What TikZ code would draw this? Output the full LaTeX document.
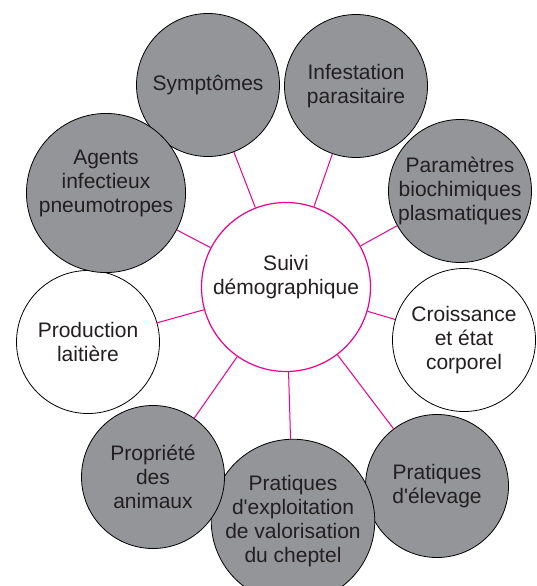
\documentclass[tikz,border=0pt]{standalone}
\usepackage{fontspec}
\setmainfont{Liberation Sans}
\usepackage{tikz}
\usetikzlibrary{positioning}
\definecolor{grisfond}{HTML}{939598}
\definecolor{rose}{HTML}{EC008C}
\definecolor{texte}{HTML}{231F20}
\tikzstyle{theme} = [circle, minimum size=143pt, inner sep=0pt, align=center, draw=black, line width=0.8pt, fill=grisfond, text=texte, font=\fontsize{21}{24}\selectfont]
\tikzstyle{blanc} = [theme, fill=white]
\tikzstyle{centre} = [circle, minimum size=169pt, inner sep=0pt, align=center, draw=rose, line width=1.2pt, fill=white, text=texte, font=\fontsize{21}{24}\selectfont]
\tikzstyle{lien} = [draw=rose, line width=1pt]

\begin{document}
\begin{tikzpicture}[x=1pt, y=-1pt]
\useasboundingbox [fill=white] (0,0) rectangle (536,586);
\node (suivi) [centre] at (286,287) {Suivi\\démographique\\\mbox{}};
\node (sympt) [theme] at (208,85) {Symptômes};
\node (infest) [theme] at (356,86) {Infestation\\parasitaire};
\node (param) [theme] at (460,191) {Paramètres\\biochimiques\\plasmatiques};
\node (croiss) [blanc] at (464,340) {Croissance\\et état\\corporel};
\node (elev) [theme] at (437,486) {Pratiques\\d\textquotesingle élevage};
\node (exploit) [theme] at (293,521) {Pratiques\\d\textquotesingle exploitation\\de valorisation\\du cheptel};
\node (propr) [theme] at (153,477) {Propriété\\des\\animaux};
\node (prod) [blanc] at (88,342) {Production\\laitière};
\node (agents) [theme] at (106,193) {Agents\\infectieux\\pneumotropes\\\mbox{}};

\draw [lien] (suivi) -- (sympt);
\draw [lien] (suivi) -- (infest);
\draw [lien] (suivi) -- (param);
\draw [lien] (suivi) -- (croiss);
\draw [lien] (suivi) -- (elev);
\draw [lien] (suivi) -- (exploit);
\draw [lien] (suivi) -- (propr);
\draw [lien] (suivi) -- (prod);
\draw [lien] (suivi) -- (agents);
\end{tikzpicture}
\end{document}
